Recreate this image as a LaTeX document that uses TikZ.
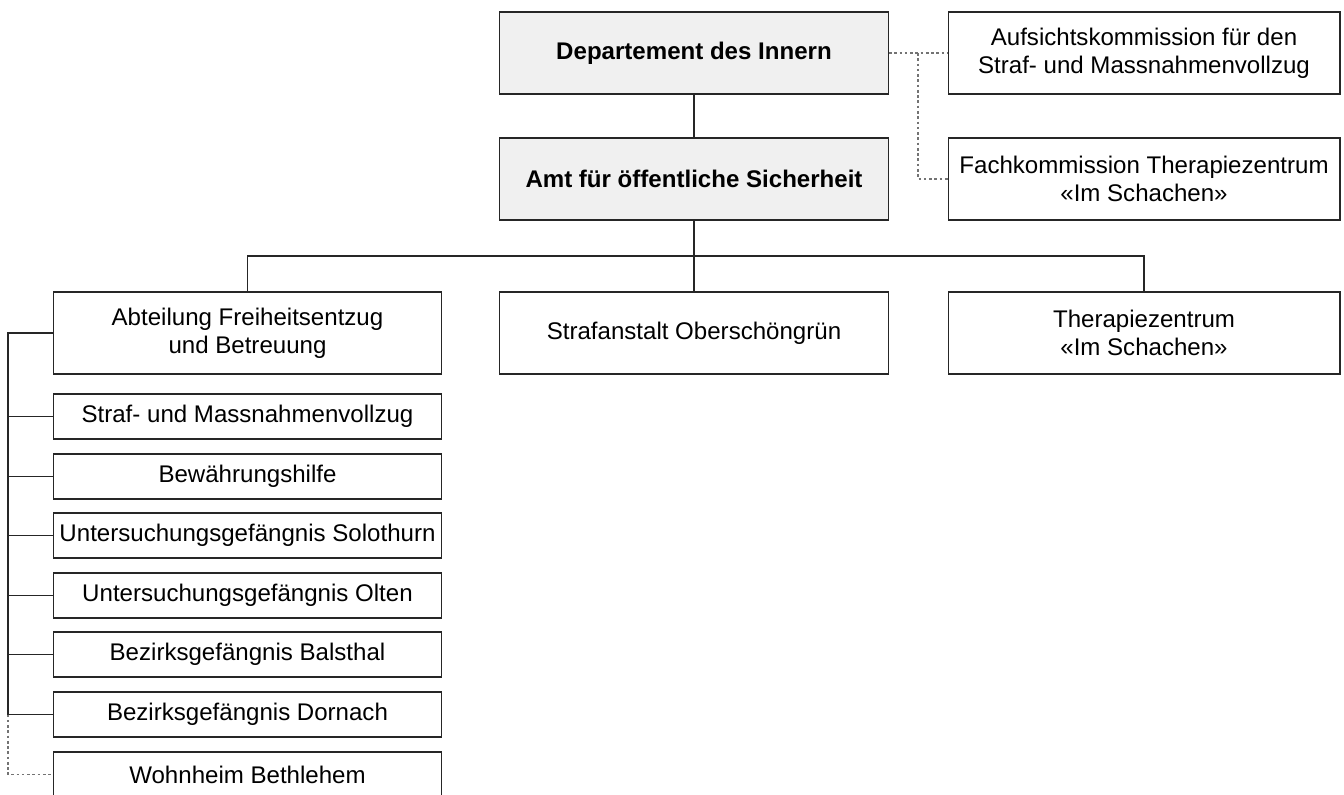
\documentclass[tikz,border=0pt]{standalone}
\usepackage{fontspec}
\setmainfont{Liberation Sans}
\usetikzlibrary{positioning, calc}

\begin{document}
\begin{tikzpicture}[
    x=0.02cm, y=-0.02cm,
    unit/.style={rectangle, draw=black!85, line width=0.6pt, align=center, inner sep=1pt,
        font=\fontsize{13.7}{15.8}\selectfont},
    bigunit/.style={unit, minimum width=7.78cm, minimum height=1.64cm},
    headunit/.style={bigunit, fill=black!6, font=\fontsize{13.7}{15.8}\selectfont\bfseries},
    smallunit/.style={unit, minimum width=7.78cm, minimum height=0.9cm},
    line/.style={draw=black!85, line width=0.6pt},
    dotline/.style={draw=black!55, line width=0.6pt, dash pattern=on 1.5pt off 1.5pt}
]
    \useasboundingbox (0,0) rectangle (1344,794);

    % Leitung
    \node (dept) [headunit] at (694, 53) {Departement des Innern};
    \node (amt) [headunit] at (694, 179) {Amt für öffentliche Sicherheit};

    % Kommissionen
    \node (aufs) [bigunit, minimum width=7.84cm] at (1144, 53) {Aufsichtskommission für den\\Straf- und Massnahmenvollzug};
    \node (fach) [bigunit, minimum width=7.84cm] at (1144, 179) {Fachkommission Therapiezentrum\\«Im Schachen»};

    % Zweite Ebene
    \node (abt) [bigunit] at (247.5, 333) {Abteilung Freiheitsentzug\\und Betreuung};
    \node (osg) [bigunit] at (694, 333) {Strafanstalt Oberschöngrün};
    \node (tz) [bigunit, minimum width=7.84cm] at (1144, 333) {Therapiezentrum\\«Im Schachen»};

    % Abteilung
    \node (smv) [smallunit] at (247.5, 416.5) {Straf- und Massnahmenvollzug};
    \node (bwh) [smallunit] at (247.5, 476.5) {Bewährungshilfe};
    \node (ugs) [smallunit] at (247.5, 535.5) {Untersuchungsgefängnis Solothurn};
    \node (ugo) [smallunit] at (247.5, 595.5) {Untersuchungsgefängnis Olten};
    \node (bgb) [smallunit] at (247.5, 654.5) {Bezirksgefängnis Balsthal};
    \node (bgd) [smallunit] at (247.5, 714.5) {Bezirksgefängnis Dornach};
    \node (whb) [smallunit] at (247.5, 774.5) {Wohnheim Bethlehem};

    % Verbindungen oben
    \draw [line] (dept) -- (amt);
    \coordinate (bus) at (694, 256);
    \draw [line] (amt) -- (bus);
    \draw [line] (bus) -- (osg);
    \draw [line] (abt.north) |- (bus) -| (tz.north);

    % Kommissionen (gestrichelt)
    \coordinate (rbus) at (918, 53);
    \draw [dotline] (dept.east) -- (aufs.west);
    \draw [dotline] (rbus) |- (fach.west);

    % Abteilung links
    \coordinate (lbus) at (8, 333);
    \draw [line] (abt.west) -- (lbus) |- (bgd.west);
    \draw [line] (smv.west) -- (smv.west -| lbus);
    \draw [line] (bwh.west) -- (bwh.west -| lbus);
    \draw [line] (ugs.west) -- (ugs.west -| lbus);
    \draw [line] (ugo.west) -- (ugo.west -| lbus);
    \draw [line] (bgb.west) -- (bgb.west -| lbus);
    \draw [dotline] (lbus |- bgd.west) |- (whb.west);
\end{tikzpicture}
\end{document}
